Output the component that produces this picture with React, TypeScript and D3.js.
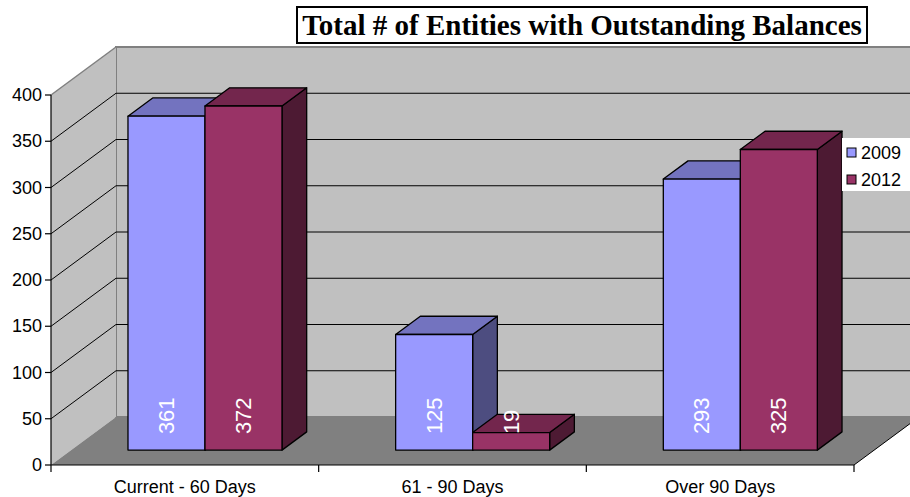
import * as d3 from 'd3';

const categories = ['Current - 60 Days', '61 - 90 Days', 'Over 90 Days'];
const seriesNames = ['2009', '2012'];
const values2009 = [361, 125, 293];
const values2012 = [372, 19, 325];
const yTicks = [0, 50, 100, 150, 200, 250, 300, 350, 400];

const frontColors = ['#9999FF', '#993366'];
const topColors = ['#7373BF', '#73264D'];
const sideColors = ['#4D4D80', '#4D1A33'];

const W = 910;
const H = 497;
const left = 51;
const right = 854;
const base = 465;
const DX = 65;
const DY = 48;
const d0 = 0.31;
const d1 = 0.69;
const sans = 'Liberation Sans, Arial, sans-serif';

export default function App() {
  const y = d3.scaleLinear().domain([0, 400]).range([base, 95]);
  const x = d3.scaleBand<string>().domain(categories).range([left, right]).paddingInner(0).paddingOuter(0);
  const xs = d3.scaleBand<string>().domain(seriesNames).range([0, x.bandwidth()]).paddingInner(0).paddingOuter(0.738);

  const p = (px: number, v: number, d: number) => [px + d * DX, y(v) - d * DY];
  const pts = (arr: number[][]) => arr.map((a) => a.join(',')).join(' ');

  const data = [values2009, values2012];
  const backX0 = left + DX;
  const backX1 = right + DX;

  const bars: JSX.Element[] = [];
  categories.forEach((c, ci) => {
    seriesNames.forEach((s, si) => {
      const v = data[si][ci];
      const x0 = (x(c) ?? 0) + (xs(s) ?? 0);
      const x1 = x0 + xs.bandwidth();
      const front = [p(x0, 0, d0), p(x1, 0, d0), p(x1, v, d0), p(x0, v, d0)];
      const top = [p(x0, v, d0), p(x1, v, d0), p(x1, v, d1), p(x0, v, d1)];
      const side = [p(x1, 0, d0), p(x1, v, d0), p(x1, v, d1), p(x1, 0, d1)];
      const [lx, ly] = p((x0 + x1) / 2, 0, d0);
      bars.push(
        <g key={`${ci}-${si}`} stroke="#000" strokeWidth={1.3} strokeLinejoin="round">
          <polygon points={pts(side)} fill={sideColors[si]} />
          <polygon points={pts(top)} fill={topColors[si]} />
          <polygon points={pts(front)} fill={frontColors[si]} />
          <text
            transform={`translate(${lx},${ly - 16}) rotate(-90)`}
            fill="#fff"
            stroke="none"
            fontSize={22}
            fontFamily={sans}
            textAnchor="start"
            dominantBaseline="central"
          >
            {v}
          </text>
        </g>
      );
    });
  });

  return (
    <svg width={W} height={H} style={{ position: 'absolute', left: 0, top: 0, background: '#fff' }}>
      {/* back wall */}
      <rect x={backX0} y={y(400) - DY} width={backX1 - backX0} height={y(0) - y(400)} fill="#C0C0C0" stroke="#808080" strokeWidth={2} />
      {/* side wall */}
      <polygon points={pts([p(left, 0, 0), p(left, 400, 0), p(left, 400, 1), p(left, 0, 1)])} fill="#C0C0C0" />
      <line x1={left} y1={y(400)} x2={backX0} y2={y(400) - DY} stroke="#808080" strokeWidth={1.5} />
      {/* floor */}
      <polygon points={pts([p(left, 0, 0), p(left, 0, 1), p(right, 0, 1), p(right, 0, 0)])} fill="#808080" />
      <line x1={right} y1={base} x2={right + DX} y2={base - DY} stroke="#000" strokeWidth={1} />
      {/* gridlines */}
      {yTicks.filter((t) => t > 0 && t < 400).map((t) => (
        <g key={t} stroke="#000" strokeWidth={1}>
          <line x1={left} y1={y(t)} x2={backX0} y2={y(t) - DY} />
          <line x1={backX0} y1={y(t) - DY} x2={backX1} y2={y(t) - DY} />
        </g>
      ))}
      {bars}
      {/* y axis */}
      <line x1={left} y1={y(0)} x2={left} y2={y(400)} stroke="#000" strokeWidth={1.2} />
      {yTicks.map((t) => (
        <g key={t}>
          <line x1={left - 6} y1={y(t)} x2={left} y2={y(t)} stroke="#000" strokeWidth={1.2} />
          <text x={left - 9} y={y(t)} textAnchor="end" dominantBaseline="central" fontSize={18} fontFamily={sans}>
            {t}
          </text>
        </g>
      ))}
      {/* x axis */}
      <line x1={left} y1={base} x2={right} y2={base} stroke="#000" strokeWidth={1.2} />
      {[...categories.map((c) => x(c) ?? 0), right].map((tx, i) => (
        <line key={i} x1={tx} y1={base} x2={tx} y2={base + 7} stroke="#000" strokeWidth={1.2} />
      ))}
      {categories.map((c) => (
        <text key={c} x={(x(c) ?? 0) + x.bandwidth() / 2} y={487} textAnchor="middle" dominantBaseline="central" fontSize={18} fontFamily={sans}>
          {c}
        </text>
      ))}
      {/* legend */}
      <rect x={842} y={138} width={68} height={53} fill="#fff" />
      {seriesNames.map((s, i) => (
        <g key={s}>
          <rect x={847} y={148 + i * 27} width={9} height={9} fill={frontColors[i]} stroke="#000" strokeWidth={1} />
          <text x={861} y={153 + i * 27} dominantBaseline="central" fontSize={18} fontFamily={sans}>
            {s}
          </text>
        </g>
      ))}
      {/* title */}
      <rect x={297} y={7} width={570} height={36} fill="#fff" stroke="#000" strokeWidth={2} />
      <text x={582} y={35} textAnchor="middle" fontSize={29} fontWeight="bold" fontFamily="Liberation Serif, Times New Roman, serif">
        Total # of Entities with Outstanding Balances
      </text>
    </svg>
  );
}
